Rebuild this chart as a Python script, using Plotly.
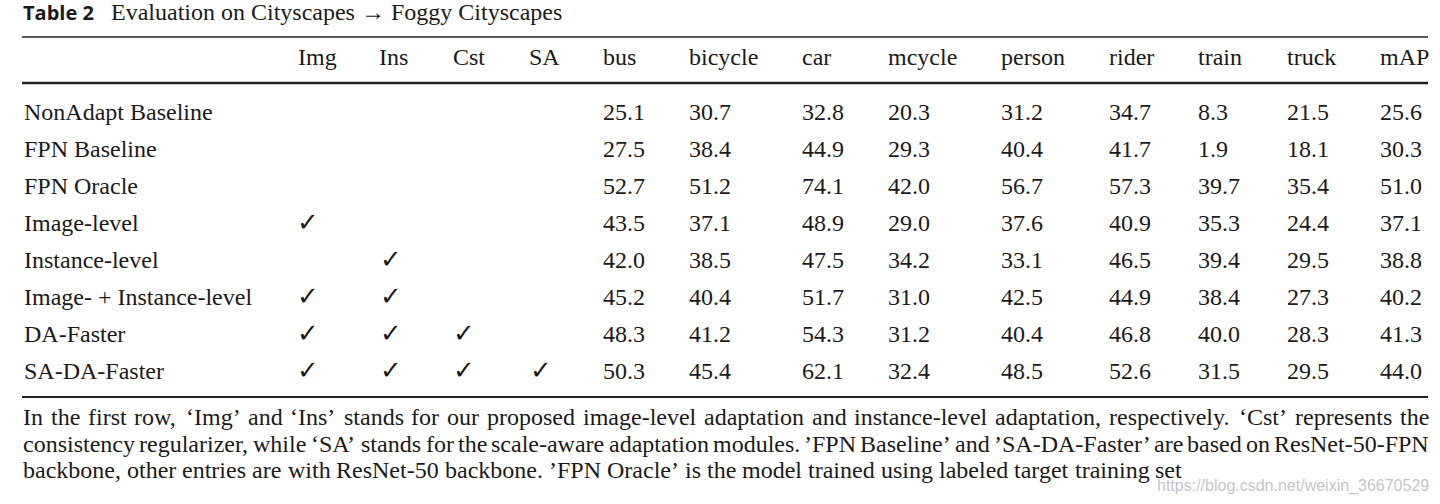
import plotly.graph_objects as go

# ---------------- data ----------------
title_bold = "Table 2"
title_text = "Evaluation on Cityscapes \u2192 Foggy Cityscapes"

flag_cols = ["Img", "Ins", "Cst", "SA"]
class_cols = ["bus", "bicycle", "car", "mcycle", "person", "rider", "train", "truck", "mAP"]

methods = ["NonAdapt Baseline", "FPN Baseline", "FPN Oracle", "Image-level",
           "Instance-level", "Image- + Instance-level", "DA-Faster", "SA-DA-Faster"]

img = [0, 0, 0, 1, 0, 1, 1, 1]
ins = [0, 0, 0, 0, 1, 1, 1, 1]
cst = [0, 0, 0, 0, 0, 0, 1, 1]
sa = [0, 0, 0, 0, 0, 0, 0, 1]

bus = [25.1, 27.5, 52.7, 43.5, 42.0, 45.2, 48.3, 50.3]
bicycle = [30.7, 38.4, 51.2, 37.1, 38.5, 40.4, 41.2, 45.4]
car = [32.8, 44.9, 74.1, 48.9, 47.5, 51.7, 54.3, 62.1]
mcycle = [20.3, 29.3, 42.0, 29.0, 34.2, 31.0, 31.2, 32.4]
person = [31.2, 40.4, 56.7, 37.6, 33.1, 42.5, 40.4, 48.5]
rider = [34.7, 41.7, 57.3, 40.9, 46.5, 44.9, 46.8, 52.6]
train = [8.3, 1.9, 39.7, 35.3, 39.4, 38.4, 40.0, 31.5]
truck = [21.5, 18.1, 35.4, 24.4, 29.5, 27.3, 28.3, 29.5]
mAP = [25.6, 30.3, 51.0, 37.1, 38.8, 40.2, 41.3, 44.0]

caption_lines = [
    "In the first row, \u2018Img\u2019 and \u2018Ins\u2019 stands for our proposed image-level adaptation and instance-level adaptation, respectively. \u2018Cst\u2019 represents the",
    "consistency regularizer, while \u2018SA\u2019 stands for the scale-aware adaptation modules. \u2019FPN Baseline\u2019 and \u2019SA-DA-Faster\u2019 are based on ResNet-50-FPN",
    "backbone, other entries are with ResNet-50 backbone. \u2019FPN Oracle\u2019 is the model trained using labeled target training set",
]
caption_justified = [True, True, False]

watermark = "https://blog.csdn.net/weixin_36670529"

# ---------------- layout / style ----------------
W, H = 1440, 504
SERIF = "Liberation Serif, Times New Roman, serif"
SANS_BOLD = "Open Sans, Liberation Sans, sans-serif"
INK = "#1a1a1a"

left_x, right_x = 22, 1428
label_x = 23
flag_x = [297, 378, 452, 528]
check_x = [296, 379, 452, 529]
class_x = [602, 688, 801, 887, 1000, 1108, 1197, 1286, 1379]
header_y = 57
row_y0, row_dy = 112, 37
rule_top, rule_mid, rule_bot = 37, 83, 397
caption_y = [417, 443.5, 470]
table_size = 24
caption_size = 24

# Times-compatible advance widths (per 1000 em) used to justify caption lines
TW = {' ': 250, ',': 250, '.': 250, '-': 333, '\u2018': 333, '\u2019': 333, '_': 500}
TW.update({c: 500 for c in "0123456789"})
TW.update(dict(zip("abcdefghijklmnopqrstuvwxyz",
                   [444, 500, 444, 500, 444, 333, 500, 500, 278, 278, 500, 278, 778,
                    500, 500, 500, 500, 333, 389, 278, 500, 500, 722, 500, 500, 444])))
TW.update(dict(zip("ABCDEFGHIJKLMNOPQRSTUVWXYZ",
                   [722, 667, 667, 722, 611, 556, 722, 722, 333, 389, 722, 611, 889,
                    722, 722, 556, 722, 667, 556, 611, 722, 722, 944, 722, 722, 611])))


def text_width(s, size):
    return sum(TW.get(ch, 500) for ch in s) * size / 1000.0


annotations = []


def add_text(x, y, text, size=table_size, family=SERIF, color=INK, xanchor="left"):
    font = dict(family=family, size=size, color=color)
    annotations.append(dict(x=x, y=y, xref="x", yref="y", text=text, showarrow=False,
                            xanchor=xanchor, yanchor="middle", borderpad=0, font=font))


# title
add_text(left_x, 12.2, "<b>" + title_bold + "</b>", size=20, family=SANS_BOLD)
add_text(110, 12, title_text, size=24)

# header
for name, x in zip(flag_cols, flag_x):
    add_text(x, header_y, name)
for name, x in zip(class_cols, class_x):
    add_text(x, header_y, name)

# body
flags = [img, ins, cst, sa]
values = [bus, bicycle, car, mcycle, person, rider, train, truck, mAP]
for i, m in enumerate(methods):
    y = row_y0 + i * row_dy
    add_text(label_x, y, m)
    for f, cx in zip(flags, check_x):
        if f[i]:
            add_text(cx, y - 1, "\u2713", size=26, family="DejaVu Sans")
    for col, cx in zip(values, class_x):
        add_text(cx, y, f"{col[i]:.1f}")

# caption (justified)
for line, just, y in zip(caption_lines, caption_justified, caption_y):
    words = line.split(" ")
    widths = [text_width(w, caption_size) for w in words]
    if just:
        gap = (right_x - left_x - sum(widths)) / (len(words) - 1)
    else:
        gap = text_width(" ", caption_size)
    x = left_x
    for w, wd in zip(words, widths):
        add_text(x, y, w, size=caption_size)
        x += wd + gap

# watermark
add_text(1430, 485.5, watermark, size=16, family="Liberation Sans, Arial, sans-serif",
         color="rgba(175,175,175,0.75)", xanchor="right")

shapes = [
    dict(type="line", xref="x", yref="y", x0=left_x, x1=right_x, y0=rule_top, y1=rule_top,
         line=dict(color="#222", width=1.6)),
    dict(type="line", xref="x", yref="y", x0=left_x, x1=right_x, y0=rule_mid, y1=rule_mid,
         line=dict(color="#222", width=2.6)),
    dict(type="line", xref="x", yref="y", x0=left_x, x1=right_x, y0=rule_bot, y1=rule_bot,
         line=dict(color="#222", width=1.8)),
]

fig = go.Figure()
fig.add_trace(go.Scatter(x=[0, W], y=[0, H], mode="markers", marker=dict(opacity=0),
                         hoverinfo="skip", showlegend=False))
fig.update_layout(
    width=W, height=H, margin=dict(l=0, r=0, t=0, b=0),
    paper_bgcolor="white", plot_bgcolor="white",
    xaxis=dict(range=[0, W], visible=False, fixedrange=True),
    yaxis=dict(range=[H, 0], visible=False, fixedrange=True),
    annotations=annotations, shapes=shapes, showlegend=False,
)
fig.write_html("out.html", config={"displayModeBar": False},
               post_script="document.body.style.margin='0';document.body.style.overflow='hidden';")
